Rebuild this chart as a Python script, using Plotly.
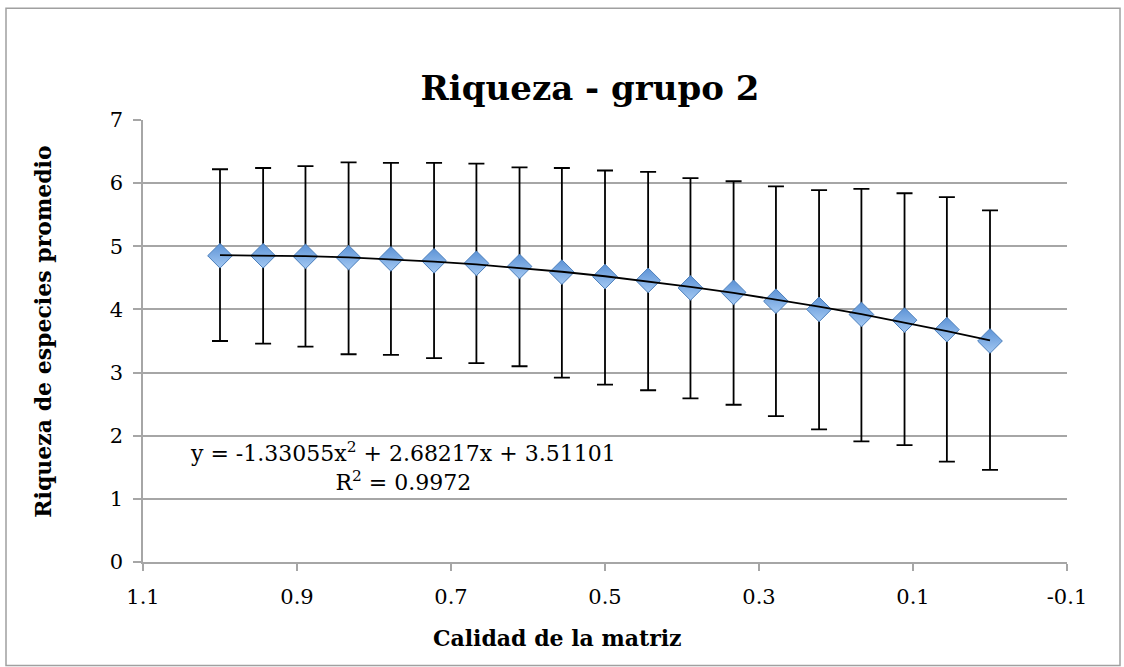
import numpy as np
import plotly.graph_objects as go

# ---- data ----
calidad = [1.0, 0.944, 0.889, 0.833, 0.778, 0.722, 0.667, 0.611, 0.556, 0.5,
           0.444, 0.389, 0.333, 0.278, 0.222, 0.167, 0.111, 0.056, 0.0]
riqueza = [4.85, 4.85, 4.84, 4.82, 4.80, 4.77, 4.73, 4.68, 4.59, 4.52,
           4.46, 4.34, 4.27, 4.13, 4.00, 3.92, 3.83, 3.68, 3.50]
upper = [6.22, 6.24, 6.27, 6.33, 6.32, 6.32, 6.31, 6.25, 6.24, 6.20,
         6.18, 6.08, 6.03, 5.95, 5.89, 5.91, 5.84, 5.78, 5.57]
lower = [3.50, 3.46, 3.41, 3.29, 3.28, 3.23, 3.15, 3.10, 2.92, 2.81,
         2.72, 2.59, 2.49, 2.31, 2.10, 1.91, 1.85, 1.59, 1.46]
x_tickvals = [1.1, 0.9, 0.7, 0.5, 0.3, 0.1, -0.1]
x_ticktext = ["1.1", "0.9", "0.7", "0.5", "0.3", "0.1", "-0.1"]
y_tickvals = [0, 1, 2, 3, 4, 5, 6, 7]
title_text = "Riqueza - grupo 2"
x_title = "Calidad de la matriz"
y_title = "Riqueza de especies promedio"
equation_text = "y = -1.33055x<sup>2</sup> + 2.68217x + 3.51101<br>R<sup>2</sup> = 0.9972"

err_plus = [u - m for u, m in zip(upper, riqueza)]
err_minus = [m - l for m, l in zip(riqueza, lower)]

# polynomial trendline (order 2), as in the spreadsheet
coef = np.polyfit(calidad, riqueza, 2)
trend_x = np.array(calidad)
trend_y = np.polyval(coef, trend_x)

FONT = "DejaVu Serif"

fig = go.Figure()
fig.add_trace(go.Scatter(
    x=calidad, y=riqueza, mode="markers",
    marker=dict(symbol="diamond", size=19, color="#5d93d6",
                gradient=dict(type="vertical", color="#a3c8f2"),
                line=dict(color="#4a7ebb", width=1)),
    error_y=dict(type="data", symmetric=False, array=err_plus,
                 arrayminus=err_minus, color="black", thickness=1.8, width=8),
    showlegend=False, hoverinfo="x+y"))
fig.add_trace(go.Scatter(
    x=trend_x, y=trend_y, mode="lines",
    line=dict(color="black", width=1.8), showlegend=False, hoverinfo="skip"))

L, R, T, B = 143, 57, 120, 104.5
W, H = 1124, 667
pw, ph = W - L - R, H - T - B

def px(x):
    return (x - L) / pw

def py(y):
    return (H - B - y) / ph

fig.update_layout(
    width=W, height=H,
    margin=dict(l=L, r=R, t=T, b=B),
    paper_bgcolor="white", plot_bgcolor="white",
    font=dict(family=FONT, color="black", size=18),
    title=dict(text="<b>" + title_text + "</b>", x=590 / W, xref="container",
               xanchor="center", y=1 - 88 / H, yref="container",
               yanchor="middle",
               font=dict(family=FONT, size=34, color="black")),
    xaxis=dict(range=[1.1, -0.1], tickvals=x_tickvals, ticktext=x_ticktext,
               showgrid=False, zeroline=False, showline=True,
               linecolor="#a6a6a6", linewidth=1.5,
               ticks="outside", ticklen=7, tickcolor="#a6a6a6", tickwidth=1.5,
               ticklabelstandoff=8,
               tickfont=dict(family=FONT, size=21)),
    yaxis=dict(range=[0, 7], tickvals=y_tickvals,
               showgrid=True, gridcolor="#a6a6a6", gridwidth=1.5,
               zeroline=False, showline=True, linecolor="#a6a6a6",
               linewidth=1.5, ticks="outside", ticklen=8,
               tickcolor="#a6a6a6", tickwidth=1.5,
               ticklabelstandoff=6,
               tickfont=dict(family=FONT, size=21)),
    annotations=[
        dict(text=equation_text, xref="paper", yref="paper",
             x=px(403), y=py(467), xanchor="center", yanchor="middle",
             showarrow=False, align="center",
             font=dict(family=FONT, size=22, color="black")),
        dict(text="<b>" + x_title + "</b>", xref="paper", yref="paper",
             x=px(557), y=py(639), xanchor="center", yanchor="middle",
             showarrow=False, font=dict(family=FONT, size=22, color="black")),
        dict(text="<b>" + y_title + "</b>", xref="paper", yref="paper",
             x=px(43), y=py(332), xanchor="center", yanchor="middle",
             textangle=-90, showarrow=False,
             font=dict(family=FONT, size=22, color="black")),
    ],
    shapes=[dict(type="rect", xref="paper", yref="paper",
                 x0=px(6), x1=px(1120), y0=py(666), y1=py(8),
                 line=dict(color="#a0a0a0", width=1.5), layer="below")],
)

fig.write_html("out.html")
